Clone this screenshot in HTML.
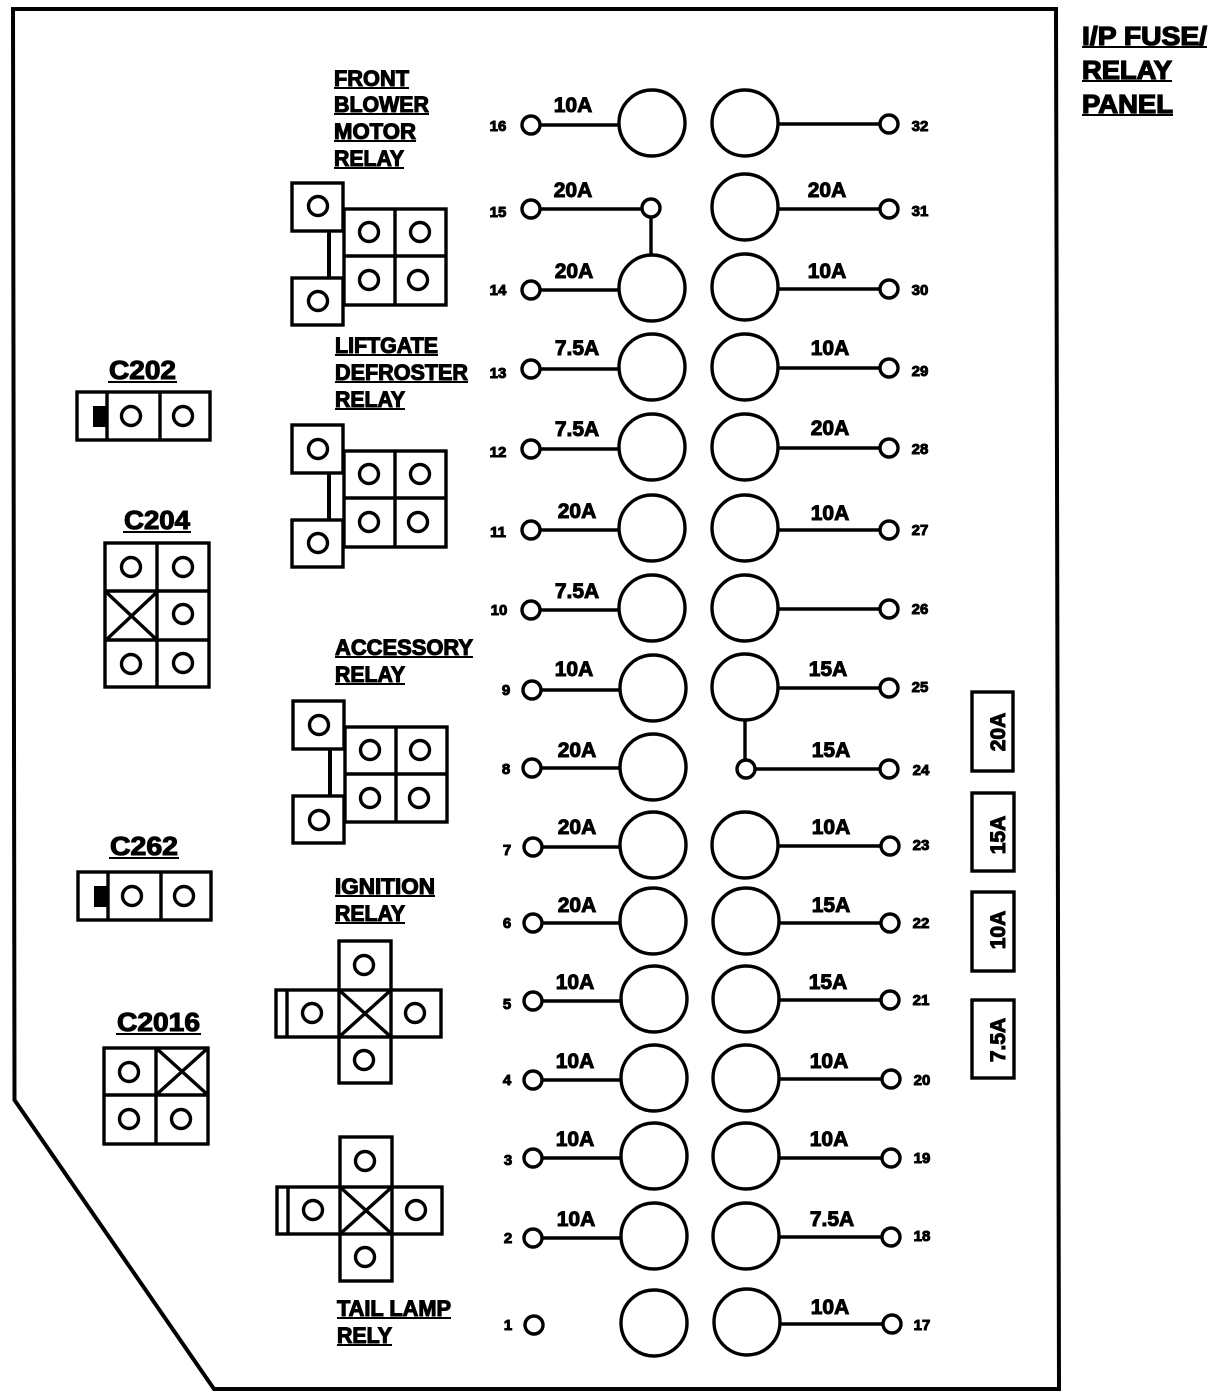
<!DOCTYPE html>
<html lang="en">
<head>
<meta charset="utf-8">
<title>I/P Fuse/Relay Panel</title>
<style>
html,body{margin:0;padding:0;background:#fff;width:1216px;height:1400px;overflow:hidden}
svg{display:block}
.s{fill:none;stroke:#000;stroke-width:3.4}
.p{fill:#fff;stroke:#000;stroke-width:3.4}
.w{fill:#fff;stroke:#000;stroke-width:3.4}
text{font-family:"Liberation Sans",Arial,sans-serif;font-weight:700;fill:#000;stroke:#000}
.a{font-size:21px;stroke-width:1;text-anchor:middle}
.n{font-size:15px;stroke-width:1;text-anchor:middle;transform:translateY(-1px)}
.l{font-size:22px;stroke-width:1.1;transform:translateY(-1px)}
.c{font-size:26px;stroke-width:1.1}
.t{font-size:26px;stroke-width:1.3;transform:translateY(-1px)}
</style>
</head>
<body>
<svg width="1216" height="1400" viewBox="0 0 1216 1400" xmlns="http://www.w3.org/2000/svg">
<path d="M13 9 H1056 L1059 1389 H214 L14.500 1100 Z" fill="none" stroke="#000" stroke-width="4"/>

<!-- header -->
<text class="t" x="1082" y="46" textLength="125" lengthAdjust="spacingAndGlyphs">I/P FUSE/</text>
<rect x="1082" y="46" width="125" height="2"/>
<text class="t" x="1082" y="80" textLength="90" lengthAdjust="spacingAndGlyphs">RELAY</text>
<rect x="1082" y="80" width="90" height="2"/>
<text class="t" x="1082" y="114" textLength="91" lengthAdjust="spacingAndGlyphs">PANEL</text>
<rect x="1082" y="114" width="91" height="2"/>

<!-- relay labels -->
<g>
<text class="l" x="334" y="87" textLength="75" lengthAdjust="spacingAndGlyphs">FRONT</text><rect x="334" y="87" width="75" height="2"/>
<text class="l" x="334" y="113" textLength="95" lengthAdjust="spacingAndGlyphs">BLOWER</text><rect x="334" y="113" width="95" height="2"/>
<text class="l" x="334" y="140" textLength="82" lengthAdjust="spacingAndGlyphs">MOTOR</text><rect x="334" y="140" width="82" height="2"/>
<text class="l" x="334" y="167" textLength="70" lengthAdjust="spacingAndGlyphs">RELAY</text><rect x="334" y="167" width="70" height="2"/>
<text class="l" x="335" y="354" textLength="103" lengthAdjust="spacingAndGlyphs">LIFTGATE</text><rect x="335" y="354" width="103" height="2"/>
<text class="l" x="335" y="381" textLength="133" lengthAdjust="spacingAndGlyphs">DEFROSTER</text><rect x="335" y="381" width="133" height="2"/>
<text class="l" x="335" y="408" textLength="70" lengthAdjust="spacingAndGlyphs">RELAY</text><rect x="335" y="408" width="70" height="2"/>
<text class="l" x="335" y="656" textLength="138" lengthAdjust="spacingAndGlyphs">ACCESSORY</text><rect x="335" y="656" width="138" height="2"/>
<text class="l" x="335" y="683" textLength="70" lengthAdjust="spacingAndGlyphs">RELAY</text><rect x="335" y="683" width="70" height="2"/>
<text class="l" x="335" y="895" textLength="100" lengthAdjust="spacingAndGlyphs">IGNITION</text><rect x="335" y="895" width="100" height="2"/>
<text class="l" x="335" y="922" textLength="70" lengthAdjust="spacingAndGlyphs">RELAY</text><rect x="335" y="922" width="70" height="2"/>
<text class="l" x="337" y="1317" textLength="114" lengthAdjust="spacingAndGlyphs">TAIL LAMP</text><rect x="337" y="1317" width="114" height="2"/>
<text class="l" x="337" y="1344" textLength="55" lengthAdjust="spacingAndGlyphs">RELY</text><rect x="337" y="1344" width="55" height="2"/>
</g>

<!-- connector titles -->
<text class="c" x="109" y="379" textLength="67" lengthAdjust="spacingAndGlyphs">C202</text><rect x="108" y="381" width="69" height="2"/>
<text class="c" x="124" y="529" textLength="66" lengthAdjust="spacingAndGlyphs">C204</text><rect x="123" y="531" width="68" height="2"/>
<text class="c" x="110" y="855" textLength="68" lengthAdjust="spacingAndGlyphs">C262</text><rect x="109" y="857" width="70" height="2"/>
<text class="c" x="117" y="1031" textLength="83" lengthAdjust="spacingAndGlyphs">C2016</text><rect x="116" y="1033" width="85" height="2"/>

<!-- C202 -->
<rect class="s" x="77" y="392" width="133" height="48"/>
<path class="s" d="M107 392V440M160 392V440"/>
<rect x="93" y="406" width="13" height="21"/>
<circle class="s" cx="131" cy="416" r="9.500"/><circle class="s" cx="183" cy="416" r="9.500"/>

<!-- C204 -->
<rect class="s" x="105" y="543" width="104" height="144"/>
<path class="s" d="M157 543V687M105 591H209M105 640H209M106 592L157 640M157 592L106 640"/>
<circle class="s" cx="131" cy="567" r="9.500"/><circle class="s" cx="183" cy="567" r="9.500"/>
<circle class="s" cx="183" cy="614" r="9.500"/>
<circle class="s" cx="131" cy="664" r="9.500"/><circle class="s" cx="183" cy="663" r="9.500"/>

<!-- C262 -->
<rect class="s" x="78" y="872" width="133" height="48"/>
<path class="s" d="M108 872V920M161 872V920"/>
<rect x="94" y="886" width="13" height="21"/>
<circle class="s" cx="132" cy="896" r="9.500"/><circle class="s" cx="184" cy="896" r="9.500"/>

<!-- C2016 -->
<rect class="s" x="104" y="1048" width="104" height="96"/>
<path class="s" d="M156 1048V1144M104 1095H208M156 1095L208 1048M156 1048L208 1095"/>
<circle class="s" cx="129" cy="1072" r="9.500"/>
<circle class="s" cx="129" cy="1119" r="9.500"/><circle class="s" cx="181" cy="1119" r="9.500"/>

<!-- relay A -->
<path d="M329 231V278" stroke="#000" stroke-width="4"/>
<rect class="s" x="344" y="209" width="102" height="96"/>
<path class="s" d="M395 209V305M344 256H446"/>
<rect class="p" x="292" y="183" width="51" height="48"/>
<rect class="p" x="292" y="278" width="51" height="47"/>
<circle class="s" cx="318" cy="206" r="9.500"/><circle class="s" cx="369" cy="232" r="9.500"/><circle class="s" cx="420" cy="232" r="9.500"/>
<circle class="s" cx="369" cy="280" r="9.500"/><circle class="s" cx="418" cy="280" r="9.500"/><circle class="s" cx="318" cy="301" r="9.500"/>

<!-- relay B -->
<path d="M329 473V520" stroke="#000" stroke-width="4"/>
<rect class="s" x="344" y="451" width="102" height="96"/>
<path class="s" d="M395 451V547M344 498H446"/>
<rect class="p" x="292" y="425" width="51" height="48"/>
<rect class="p" x="292" y="520" width="51" height="47"/>
<circle class="s" cx="318" cy="449" r="9.500"/><circle class="s" cx="369" cy="474" r="9.500"/><circle class="s" cx="420" cy="474" r="9.500"/>
<circle class="s" cx="369" cy="522" r="9.500"/><circle class="s" cx="418" cy="522" r="9.500"/><circle class="s" cx="318" cy="543" r="9.500"/>

<!-- relay C -->
<path d="M330 749V796" stroke="#000" stroke-width="4"/>
<rect class="s" x="345" y="727" width="102" height="95"/>
<path class="s" d="M396 727V822M345 774H447"/>
<rect class="p" x="293" y="701" width="51" height="48"/>
<rect class="p" x="293" y="796" width="51" height="47"/>
<circle class="s" cx="319" cy="725" r="9.500"/><circle class="s" cx="370" cy="750" r="9.500"/><circle class="s" cx="420" cy="750" r="9.500"/>
<circle class="s" cx="370" cy="798" r="9.500"/><circle class="s" cx="419" cy="798" r="9.500"/><circle class="s" cx="319" cy="820" r="9.500"/>

<!-- ignition relay -->
<rect class="s" x="339" y="941" width="52" height="142"/>
<rect class="s" x="276" y="990" width="165" height="47"/>
<path class="s" d="M287 990V1037M339 990L391 1037M391 990L339 1037"/>
<circle class="s" cx="364" cy="965" r="9.500"/><circle class="s" cx="312" cy="1013" r="9.500"/><circle class="s" cx="415" cy="1013" r="9.500"/><circle class="s" cx="364" cy="1060" r="9.500"/>

<!-- tail lamp relay -->
<rect class="s" x="340" y="1137" width="52" height="144"/>
<rect class="s" x="277" y="1187" width="165" height="47"/>
<path class="s" d="M288 1187V1234M340 1187L392 1234M392 1187L340 1234"/>
<circle class="s" cx="365" cy="1161" r="9.500"/><circle class="s" cx="313" cy="1210" r="9.500"/><circle class="s" cx="416" cy="1210" r="9.500"/><circle class="s" cx="365" cy="1257" r="9.500"/>

<!-- left fuse wires -->
<path class="s" d="M531 125H625M531 209H651M651 209V255M531 290H625M531 369H625M531 449H625M531 530H625M531 610H625M532 690H625M532 768H625M533 847H625M533 923H625M533 1001H625M533 1080H625M533 1158H625M533 1238H625"/>
<!-- right fuse wires -->
<path class="s" d="M775 124H889M775 209H889M775 289H889M775 368H889M775 448H889M775 530H889M775 609H889M775 688H889M745 769H889M745 715V769M775 846H890M775 923H890M775 1000H890M775 1079H891M775 1158H891M775 1237H891M775 1324H892"/>

<!-- fuses -->
<g>
<circle class="w" cx="652" cy="123" r="33"/><circle class="w" cx="652" cy="288" r="33"/><circle class="w" cx="652" cy="367" r="33"/><circle class="w" cx="652" cy="447" r="33"/><circle class="w" cx="652" cy="528" r="33"/><circle class="w" cx="652" cy="608" r="33"/><circle class="w" cx="653" cy="688" r="33"/><circle class="w" cx="653" cy="767" r="33"/><circle class="w" cx="653" cy="845" r="33"/><circle class="w" cx="653" cy="921" r="33"/><circle class="w" cx="654" cy="999" r="33"/><circle class="w" cx="654" cy="1078" r="33"/><circle class="w" cx="654" cy="1156" r="33"/><circle class="w" cx="654" cy="1236" r="33"/><circle class="w" cx="654" cy="1323" r="33"/>
<circle class="w" cx="745" cy="123" r="33"/><circle class="w" cx="745" cy="207" r="33"/><circle class="w" cx="745" cy="287" r="33"/><circle class="w" cx="745" cy="367" r="33"/><circle class="w" cx="745" cy="447" r="33"/><circle class="w" cx="745" cy="528" r="33"/><circle class="w" cx="745" cy="608" r="33"/><circle class="w" cx="745" cy="687" r="33"/><circle class="w" cx="745" cy="845" r="33"/><circle class="w" cx="746" cy="921" r="33"/><circle class="w" cx="746" cy="999" r="33"/><circle class="w" cx="746" cy="1078" r="33"/><circle class="w" cx="746" cy="1156" r="33"/><circle class="w" cx="746" cy="1236" r="33"/><circle class="w" cx="747" cy="1322" r="33"/>
</g>

<!-- small terminals -->
<g>
<circle class="w" cx="531" cy="125" r="9"/><circle class="w" cx="531" cy="209" r="9"/><circle class="w" cx="651" cy="208" r="9"/><circle class="w" cx="531" cy="290" r="9"/><circle class="w" cx="531" cy="369" r="9"/><circle class="w" cx="531" cy="449" r="9"/><circle class="w" cx="531" cy="530" r="9"/><circle class="w" cx="531" cy="610" r="9"/><circle class="w" cx="532" cy="690" r="9"/><circle class="w" cx="532" cy="768" r="9"/><circle class="w" cx="533" cy="847" r="9"/><circle class="w" cx="533" cy="923" r="9"/><circle class="w" cx="533" cy="1001" r="9"/><circle class="w" cx="533" cy="1080" r="9"/><circle class="w" cx="533" cy="1158" r="9"/><circle class="w" cx="533" cy="1238" r="9"/><circle class="w" cx="534" cy="1325" r="9"/>
<circle class="w" cx="889" cy="124" r="9"/><circle class="w" cx="889" cy="209" r="9"/><circle class="w" cx="889" cy="289" r="9"/><circle class="w" cx="889" cy="368" r="9"/><circle class="w" cx="889" cy="448" r="9"/><circle class="w" cx="889" cy="530" r="9"/><circle class="w" cx="889" cy="609" r="9"/><circle class="w" cx="889" cy="688" r="9"/><circle class="w" cx="746" cy="769" r="9"/><circle class="w" cx="889" cy="769" r="9"/><circle class="w" cx="890" cy="846" r="9"/><circle class="w" cx="890" cy="923" r="9"/><circle class="w" cx="890" cy="1000" r="9"/><circle class="w" cx="891" cy="1079" r="9"/><circle class="w" cx="891" cy="1158" r="9"/><circle class="w" cx="891" cy="1237" r="9"/><circle class="w" cx="892" cy="1324" r="9"/>
</g>

<!-- terminal numbers -->
<g>
<text class="n" x="498" y="132">16</text><text class="n" x="498" y="218">15</text><text class="n" x="498" y="296">14</text><text class="n" x="498" y="379">13</text><text class="n" x="498" y="458">12</text><text class="n" x="498" y="538">11</text><text class="n" x="499" y="616">10</text><text class="n" x="506" y="696">9</text><text class="n" x="506" y="775">8</text><text class="n" x="507" y="856">7</text><text class="n" x="507" y="929">6</text><text class="n" x="507" y="1010">5</text><text class="n" x="507" y="1086">4</text><text class="n" x="508" y="1166">3</text><text class="n" x="508" y="1244">2</text><text class="n" x="508" y="1331">1</text>
<text class="n" x="920" y="132">32</text><text class="n" x="920" y="217">31</text><text class="n" x="920" y="296">30</text><text class="n" x="920" y="377">29</text><text class="n" x="920" y="455">28</text><text class="n" x="920" y="536">27</text><text class="n" x="920" y="615">26</text><text class="n" x="920" y="693">25</text><text class="n" x="921" y="776">24</text><text class="n" x="921" y="851">23</text><text class="n" x="921" y="929">22</text><text class="n" x="921" y="1006">21</text><text class="n" x="922" y="1086">20</text><text class="n" x="922" y="1164">19</text><text class="n" x="922" y="1242">18</text><text class="n" x="922" y="1331">17</text>
</g>

<!-- amp labels left -->
<g>
<text class="a" x="573" y="112">10A</text><text class="a" x="573" y="197">20A</text><text class="a" x="574" y="278">20A</text><text class="a" x="577" y="355">7.5A</text><text class="a" x="577" y="436">7.5A</text><text class="a" x="577" y="518">20A</text><text class="a" x="577" y="598">7.5A</text><text class="a" x="574" y="676">10A</text><text class="a" x="577" y="757">20A</text><text class="a" x="577" y="834">20A</text><text class="a" x="577" y="912">20A</text><text class="a" x="575" y="989">10A</text><text class="a" x="575" y="1068">10A</text><text class="a" x="575" y="1146">10A</text><text class="a" x="576" y="1226">10A</text>
</g>
<!-- amp labels right -->
<g>
<text class="a" x="827" y="197">20A</text><text class="a" x="827" y="278">10A</text><text class="a" x="830" y="355">10A</text><text class="a" x="830" y="435">20A</text><text class="a" x="830" y="520">10A</text><text class="a" x="828" y="676">15A</text><text class="a" x="831" y="757">15A</text><text class="a" x="831" y="834">10A</text><text class="a" x="831" y="912">15A</text><text class="a" x="828" y="989">15A</text><text class="a" x="829" y="1068">10A</text><text class="a" x="829" y="1146">10A</text><text class="a" x="832" y="1226">7.5A</text><text class="a" x="830" y="1314">10A</text>
</g>

<!-- spare fuses -->
<rect class="s" x="972" y="692" width="41" height="79"/>
<rect class="s" x="972" y="793" width="42" height="78"/>
<rect class="s" x="972" y="892" width="42" height="79"/>
<rect class="s" x="972" y="1000" width="42" height="78"/>
<text class="a" transform="translate(1005,732) rotate(-90)">20A</text>
<text class="a" transform="translate(1005,835) rotate(-90)">15A</text>
<text class="a" transform="translate(1005,930) rotate(-90)">10A</text>
<text class="a" transform="translate(1005,1040) rotate(-90)">7.5A</text>
</svg>
</body>
</html>
